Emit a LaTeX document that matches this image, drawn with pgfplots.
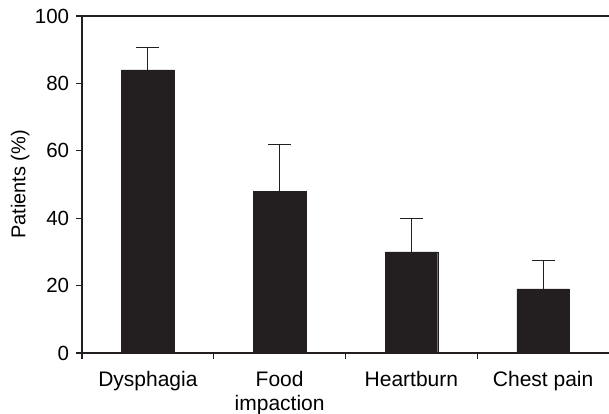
\documentclass[border=0pt]{standalone}
\usepackage{fontspec}
\setmainfont{Liberation Sans}
\usepackage{pgfplots}
\pgfplotsset{compat=1.18}
\definecolor{barc}{HTML}{231F20}
\begin{document}
\fontsize{20bp}{24bp}\selectfont
\begin{tikzpicture}
\begin{axis}[
  scale only axis, width=527bp, height=337bp,
  xmin=-0.5, xmax=3.5, ymin=0, ymax=100,
  axis x line*=bottom, axis y line*=left,
  axis line style={-, line width=1.3bp, color=barc},
  ytick={0,20,...,100},
  xtick={0,1,2,3},
  xticklabels={Dysphagia, {Food\\impaction}, Heartburn, Chest pain},
  xticklabel style={align=center, text depth=0pt, yshift=-5bp, font=\fontsize{21bp}{24bp}\selectfont},
  major x tick style={draw=none},
  minor xtick={-0.5,0.5,1.5,2.5},
  tick align=outside, tick pos=left,
  major tick length=6bp, minor tick length=6bp,
  tick style={line width=1.3bp, color=barc},
  /pgf/number format/assume math mode=true,
  ylabel={Patients (\%)},
  ylabel style={font=\fontsize{20bp}{24bp}\selectfont, yshift=-8bp},
  yticklabel style={font=\fontsize{20.5bp}{24bp}\selectfont},
  clip=false,
]
\addplot[ybar, bar width=0.4, fill=barc, draw=barc, bar shift=0pt,
  error bars/.cd, y dir=plus, y explicit,
  error bar style={line width=0.8bp, color=barc},
  error mark options={rotate=90, line width=0.8bp, mark size=11.5bp, color=barc}]
  table[x=x, y=y, y error=e] {
x y e
0 84 6.8
1 48 14
2 30 10
3 19 8.5
};
\draw[line width=1.3bp, color=barc] (rel axis cs:0,1) -- (rel axis cs:1,1);
\coordinate (sw) at (rel axis cs:0,0);
\coordinate (ne) at (rel axis cs:1,1);
\end{axis}
\pgfresetboundingbox
\path[use as bounding box] ([shift={(-82bp,-61bp)}]sw) rectangle ([shift={(0bp,16bp)}]ne);
\end{tikzpicture}
\end{document}
